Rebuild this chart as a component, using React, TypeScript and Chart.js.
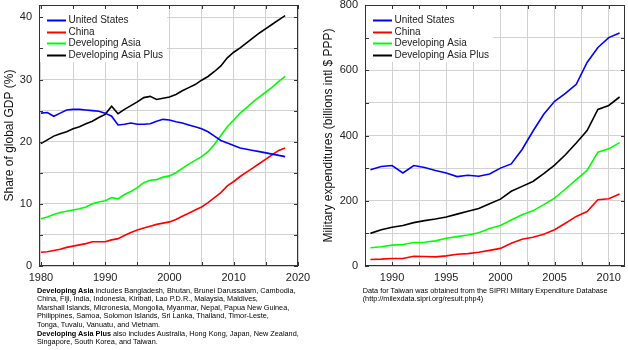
import React, { useEffect, useRef } from "react";
import { Chart, registerables } from "chart.js";
Chart.register(...registerables);

const FONT = "'Liberation Sans', Arial, Helvetica, sans-serif";

const seriesNames = ["United States", "China", "Developing Asia", "Developing Asia Plus"];
const seriesColors = ["#0000ff", "#ff0000", "#00ff00", "#000000"];

// ---- Left chart: share of global GDP (%) ----
const gdpYears = [
  1980, 1981, 1982, 1983, 1984, 1985, 1986, 1987, 1988, 1989,
  1990, 1991, 1992, 1993, 1994, 1995, 1996, 1997, 1998, 1999,
  2000, 2001, 2002, 2003, 2004, 2005, 2006, 2007, 2008, 2009,
  2010, 2011, 2012, 2013, 2014, 2015, 2016, 2017, 2018,
];
const usGdp = [
  24.6, 24.7, 24.1, 24.6, 25.1, 25.2, 25.2, 25.1, 25.0, 24.9,
  24.6, 24.1, 22.7, 22.8, 23.0, 22.8, 22.8, 22.9, 23.3, 23.6,
  23.5, 23.2, 23.0, 22.7, 22.4, 22.1, 21.6, 20.9, 20.2, 19.8,
  19.4, 19.0, 18.8, 18.6, 18.4, 18.2, 18.0, 17.8, 17.6,
];
const chinaGdp = [
  2.2, 2.3, 2.5, 2.7, 3.0, 3.2, 3.4, 3.6, 3.9, 3.9,
  3.9, 4.2, 4.4, 4.9, 5.4, 5.8, 6.1, 6.4, 6.7, 6.9,
  7.1, 7.5, 8.0, 8.5, 9.0, 9.5, 10.2, 11.0, 11.8, 12.9,
  13.6, 14.4, 15.1, 15.8, 16.5, 17.2, 17.9, 18.6, 19.0,
];
const devAsiaGdp = [
  7.6, 7.9, 8.3, 8.6, 8.8, 9.0, 9.2, 9.5, 10.0, 10.3,
  10.5, 11.0, 10.8, 11.5, 12.0, 12.6, 13.4, 13.8, 13.9, 14.3,
  14.5, 15.0, 15.7, 16.4, 17.0, 17.6, 18.4, 19.6, 21.0, 22.4,
  23.5, 24.6, 25.5, 26.4, 27.2, 28.0, 28.8, 29.7, 30.5,
];
const devAsiaPlusGdp = [
  19.7, 20.3, 20.9, 21.3, 21.6, 22.1, 22.4, 22.9, 23.3, 23.9,
  24.4, 25.7, 24.5, 25.2, 25.8, 26.4, 27.1, 27.3, 26.8, 27.0,
  27.2, 27.6, 28.2, 28.7, 29.2, 29.9, 30.5, 31.3, 32.2, 33.5,
  34.4, 35.1, 35.9, 36.7, 37.5, 38.2, 38.9, 39.6, 40.3,
];
const gdpXTicks = [1980, 1985, 1990, 1995, 2000, 2005, 2010, 2015, 2020];
const gdpYTicks = [0, 5, 10, 15, 20, 25, 30, 35, 40];

// ---- Right chart: military expenditures (billions intl $ PPP) ----
const milYears = [
  1988, 1989, 1990, 1991, 1992, 1993, 1994, 1995, 1996, 1997, 1998, 1999,
  2000, 2001, 2002, 2003, 2004, 2005, 2006, 2007, 2008, 2009, 2010, 2011,
];
const usMil = [
  295, 305, 308, 285, 308, 302, 293, 285, 274, 278, 275, 282,
  300, 313, 357, 413, 465, 505, 529, 557, 624, 670, 700, 714,
];
const chinaMil = [
  20, 21, 23, 23, 30, 29, 28, 31, 36, 38, 42, 48,
  54, 70, 82, 88, 97, 111, 131, 152, 167, 203, 206, 221,
];
const devAsiaMil = [
  56, 59, 64, 66, 72, 73, 77, 85, 90, 95, 102, 115,
  124, 141, 157, 169, 188, 208, 236, 265, 293, 349, 359, 378,
];
const devAsiaPlusMil = [
  100, 111, 119, 124, 133, 139, 144, 150, 159, 168, 176, 191,
  205, 229, 244, 259, 283, 309, 341, 377, 415, 480, 492, 518,
];
const milXTicks = [1990, 1992.5, 1995, 1997.5, 2000, 2002.5, 2005, 2007.5, 2010];
const milYTicks = [0, 100, 200, 300, 400, 500, 600, 700, 800];

const insideLegendFrame = {
  id: "insideLegendFrame",
  afterDraw(chart: any) {
    const { ctx, chartArea: a } = chart;
    const xs = chart.scales.x;
    const ys = chart.scales.y;
    ctx.save();
    // legend background
    ctx.font = `10px ${FONT}`;
    let maxW = 0;
    chart.data.datasets.forEach((ds: any) => { maxW = Math.max(maxW, ctx.measureText(ds.label).width); });
    ctx.fillStyle = "#ffffff";
    ctx.fillRect(a.left + 1, a.top + 4, 29.5 + maxW + 3, 53);
    // legend
    ctx.textBaseline = "middle";
    ctx.textAlign = "left";
    chart.data.datasets.forEach((ds: any, i: number) => {
      const y = Math.round(a.top + 15 + i * 11.6) + 0.5;
      ctx.strokeStyle = ds.borderColor;
      ctx.lineWidth = 2;
      ctx.beginPath();
      ctx.moveTo(a.left + 8, y);
      ctx.lineTo(a.left + 27, y);
      ctx.stroke();
      ctx.fillStyle = "#222222";
      ctx.fillText(ds.label, a.left + 29.5, y);
    });
    // inward tick marks on all four sides
    ctx.strokeStyle = "#333333";
    ctx.lineWidth = 1;
    ctx.beginPath();
    xs.ticks.forEach((t: any) => {
      const px = Math.round(xs.getPixelForValue(t.value)) + 0.5;
      ctx.moveTo(px, a.bottom); ctx.lineTo(px, a.bottom - 4);
      ctx.moveTo(px, a.top); ctx.lineTo(px, a.top + 4);
    });
    ys.ticks.forEach((t: any) => {
      const py = Math.round(ys.getPixelForValue(t.value)) + 0.5;
      ctx.moveTo(a.left, py); ctx.lineTo(a.left + 4, py);
      ctx.moveTo(a.right, py); ctx.lineTo(a.right - 4, py);
    });
    ctx.stroke();
    // frame
    ctx.strokeRect(Math.round(a.left) + 0.5, Math.round(a.top) + 0.5,
      Math.round(a.right - a.left) - 1, Math.round(a.bottom - a.top) - 1);
    ctx.restore();
  },
};

function makeConfig(opts: {
  years: number[];
  series: number[][];
  xMin: number; xMax: number; yMax: number;
  xTicks: number[]; yTicks: number[];
  xLabelEvery: number; yLabelEvery: number;
  leftW: number; rightPad: number; height: number;
  title: string; titlePad: number;
}) {
  const tickFont = { size: 11, family: FONT };
  return {
    type: "line",
    data: {
      datasets: opts.series.map((vals, i) => ({
        label: seriesNames[i],
        data: opts.years.map((yr, j) => ({ x: yr, y: vals[j] })),
        borderColor: seriesColors[i],
        backgroundColor: seriesColors[i],
        borderWidth: 1.6,
        pointRadius: 0,
        tension: 0,
        fill: false,
      })),
    },
    options: {
      animation: false,
      responsive: false,
      maintainAspectRatio: false,
      events: [],
      layout: { padding: { top: 5, right: opts.rightPad, left: 0, bottom: 0 } },
      plugins: { legend: { display: false }, tooltip: { enabled: false } },
      scales: {
        x: {
          type: "linear",
          min: opts.xMin,
          max: opts.xMax,
          afterBuildTicks: (s: any) => { s.ticks = opts.xTicks.map((v) => ({ value: v })); },
          afterFit: (s: any) => { s.height = opts.height - 266; s.paddingLeft = 0; s.paddingRight = 0; },
          ticks: {
            autoSkip: false, maxRotation: 0, minRotation: 0, padding: 5,
            font: tickFont, color: "#222222",
            callback: (v: number) => (v % opts.xLabelEvery === 0 ? String(v) : ""),
          },
          grid: { color: "#d2d2d2", lineWidth: 1, drawTicks: false },
          border: { display: false },
        },
        y: {
          type: "linear",
          min: 0,
          max: opts.yMax,
          afterBuildTicks: (s: any) => { s.ticks = opts.yTicks.map((v) => ({ value: v })); },
          afterFit: (s: any) => { s.width = opts.leftW; s.paddingTop = 0; s.paddingBottom = 0; },
          ticks: {
            autoSkip: false, padding: 7,
            font: tickFont, color: "#222222",
            callback: (v: number) => (v % opts.yLabelEvery === 0 ? String(v) : ""),
          },
          grid: { color: "#d2d2d2", lineWidth: 1, drawTicks: false },
          border: { display: false },
          title: {
            display: true,
            text: opts.title,
            color: "#111111",
            font: { size: 12, family: FONT },
            padding: { top: opts.titlePad, bottom: 0 },
          },
        },
      },
    },
    plugins: [insideLegendFrame],
  } as any;
}

export default function App() {
  const leftRef = useRef<HTMLCanvasElement>(null);
  const rightRef = useRef<HTMLCanvasElement>(null);

  useEffect(() => {
    const c1 = new Chart(leftRef.current!, makeConfig({
      years: gdpYears,
      series: [usGdp, chinaGdp, devAsiaGdp, devAsiaPlusGdp],
      xMin: 1979.7, xMax: 2020, yMax: 42,
      xTicks: gdpXTicks, yTicks: gdpYTicks,
      xLabelEvery: 10, yLabelEvery: 10,
      leftW: 39, rightPad: 312 - 298, height: 290,
      title: "Share of global GDP (%)", titlePad: 2,
    }));
    const c2 = new Chart(rightRef.current!, makeConfig({
      years: milYears,
      series: [usMil, chinaMil, devAsiaMil, devAsiaPlusMil],
      xMin: 1987.5, xMax: 2011.5, yMax: 800,
      xTicks: milXTicks, yTicks: milYTicks,
      xLabelEvery: 5, yLabelEvery: 200,
      leftW: 53, rightPad: 316 - 313, height: 290,
      title: "Military expenditures (billions intl $ PPP)", titlePad: 9,
    }));
    return () => { c1.destroy(); c2.destroy(); };
  }, []);

  const note: React.CSSProperties = {
    position: "absolute",
    fontFamily: FONT,
    fontSize: "7.3px",
    lineHeight: "8.6px",
    color: "#000",
    whiteSpace: "nowrap",
  };

  return (
    <div style={{ position: "absolute", left: 0, top: 0, width: 628, height: 350, background: "#fff", overflow: "hidden" }}>
      <canvas ref={leftRef} width={312} height={290} style={{ position: "absolute", left: 0, top: 0, width: 312, height: 290 }} />
      <canvas ref={rightRef} width={316} height={290} style={{ position: "absolute", left: 312, top: 0, width: 316, height: 290 }} />
      <div style={{ ...note, left: 37, top: 286.7 }}>
        <div><b>Developing Asia</b> includes Bangladesh, Bhutan, Brunei Darussalam, Cambodia,</div>
        <div>China, Fiji, India, Indonesia, Kiribati, Lao P.D.R., Malaysia, Maldives,</div>
        <div>Marshall Islands, Micronesia, Mongolia, Myanmar, Nepal, Papua New Guinea,</div>
        <div>Philippines, Samoa, Solomon Islands, Sri Lanka, Thailand, Timor-Leste,</div>
        <div>Tonga, Tuvalu, Vanuatu, and Vietnam.</div>
        <div><b>Developing Asia Plus</b> also includes Australia, Hong Kong, Japan, New Zealand,</div>
        <div>Singapore, South Korea, and Taiwan.</div>
      </div>
      <div style={{ ...note, left: 362.7, top: 286.7 }}>
        <div>Data for Taiwan was obtained from the SIPRI Military Expenditure Database</div>
        <div>(http://milexdata.sipri.org/result.php4)</div>
      </div>
    </div>
  );
}
